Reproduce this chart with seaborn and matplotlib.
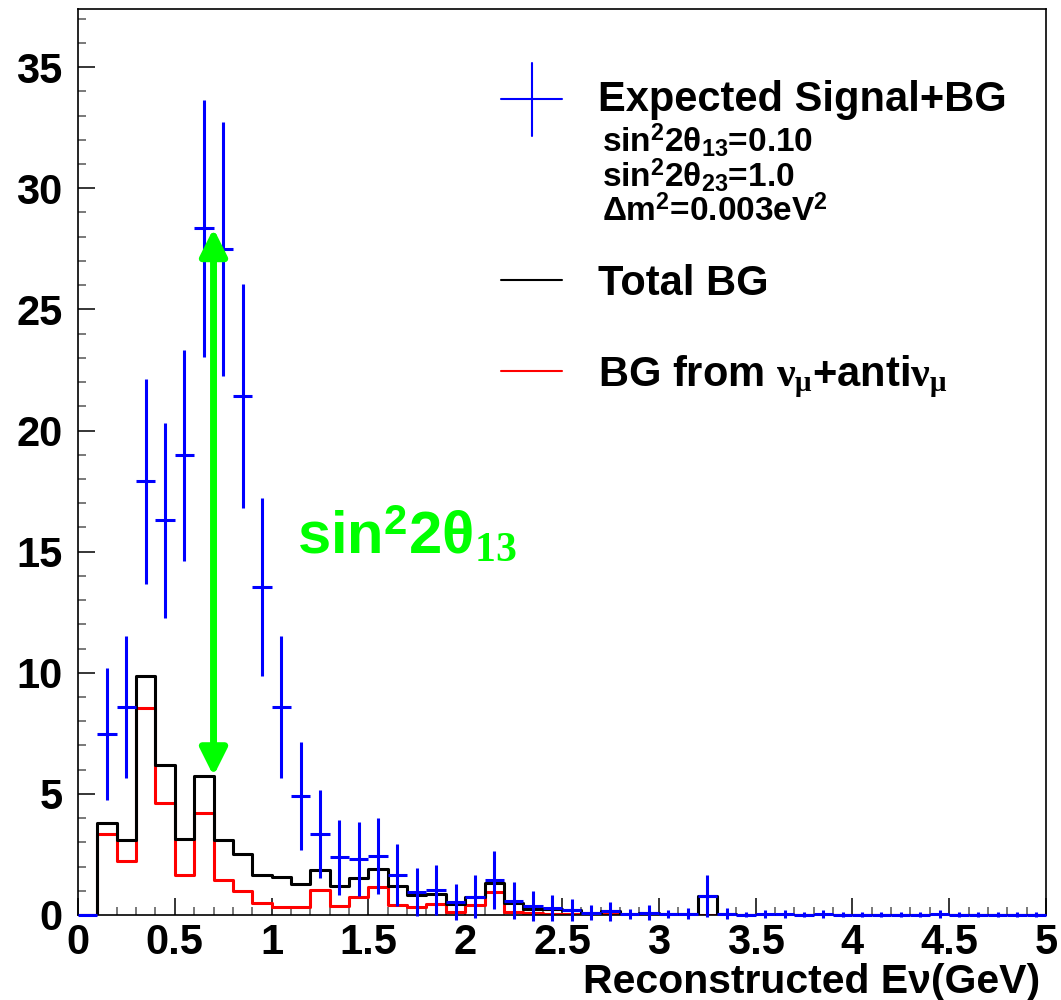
import numpy as np
import pandas as pd
import matplotlib
matplotlib.use("Agg")
import matplotlib.pyplot as plt
from matplotlib.lines import Line2D
from matplotlib.ticker import MultipleLocator
import seaborn as sns

# histogram binning: 50 bins of 0.1 GeV between 0 and 5 GeV
bin_edges = np.linspace(0.0, 5.0, 51)
bin_centers = 0.5 * (bin_edges[:-1] + bin_edges[1:])

# expected signal + BG (blue crosses)
signal_bg = [0.00, 7.47, 8.57, 17.90, 16.29, 18.97, 28.34, 27.51, 21.43, 13.54,
             8.57, 4.91, 3.34, 2.38, 2.33, 2.45, 1.64, 0.95, 1.03, 0.54,
             0.76, 1.44, 0.59, 0.37, 0.29, 0.20, 0.10, 0.15, 0.04, 0.10,
             0.03, 0.06, 0.78, 0.05, 0.01, 0.03, 0.03, 0.01, 0.03, 0.01,
             0.01, 0.01, 0.01, 0.01, 0.03, 0.01, 0.01, 0.01, 0.01, 0.01]

# total background (black)
total_bg = [0.00, 3.81, 3.08, 9.88, 6.19, 3.14, 5.74, 3.08, 2.53, 1.65,
            1.58, 1.28, 1.85, 1.20, 1.54, 1.88, 1.20, 0.81, 0.87, 0.45,
            0.73, 1.33, 0.48, 0.23, 0.25, 0.20, 0.10, 0.15, 0.04, 0.10,
            0.03, 0.05, 0.78, 0.03, 0.01, 0.02, 0.02, 0.01, 0.02, 0.01,
            0.01, 0.01, 0.01, 0.01, 0.02, 0.01, 0.01, 0.00, 0.01, 0.00]

# background from numu + anti-numu (red)
numu_bg = [0.00, 3.33, 2.24, 8.54, 4.61, 1.65, 4.21, 1.44, 1.00, 0.48,
           0.34, 0.34, 1.03, 0.37, 0.75, 1.17, 0.41, 0.34, 0.45, 0.12,
           0.41, 0.95, 0.12, 0.10, 0.05, 0.04, 0.03, 0.03, 0.01, 0.03,
           0.01, 0.01, 0.00, 0.01, 0.00, 0.00, 0.00, 0.00, 0.00, 0.00,
           0.00, 0.00, 0.00, 0.00, 0.00, 0.00, 0.00, 0.00, 0.00, 0.00]

xtick_values = [0, 0.5, 1, 1.5, 2, 2.5, 3, 3.5, 4, 4.5, 5]
xtick_labels = ["0", "0.5", "1", "1.5", "2", "2.5", "3", "3.5", "4", "4.5", "5"]
ytick_values = [0, 5, 10, 15, 20, 25, 30, 35]
ytick_labels = ["0", "5", "10", "15", "20", "25", "30", "35"]

# Poisson errors on the expected counts
signal_err = np.sqrt(np.array(signal_bg))

df = pd.DataFrame({"E": bin_centers, "total": total_bg, "numu": numu_bg,
                   "signal": signal_bg, "err": signal_err})

sns.set_style("white")
plt.rcParams["font.family"] = ["Liberation Sans", "DejaVu Sans"]
plt.rcParams["font.weight"] = "bold"
plt.rcParams["text.color"] = "black"
plt.rcParams["xtick.labelcolor"] = "black"
plt.rcParams["ytick.labelcolor"] = "black"
plt.rcParams["mathtext.fontset"] = "custom"
plt.rcParams["mathtext.rm"] = "Liberation Serif"
plt.rcParams["mathtext.bf"] = "Liberation Sans:bold"
plt.rcParams["mathtext.it"] = "Liberation Serif:italic"

W, H = 1061, 1000
fig = plt.figure(figsize=(W / 100, H / 100), dpi=100)
ax = fig.add_axes([78 / W, 85 / H, (1046 - 78) / W, (915 - 9) / H])

def fx(px):
    return px / W

def fy(py):
    return 1 - py / H

lw = 2.2
edges = list(bin_edges)
sns.histplot(data=df, x="E", weights="numu", bins=edges, element="step",
             fill=False, color="#ff0000", linewidth=lw, ax=ax, zorder=2)
sns.histplot(data=df, x="E", weights="total", bins=edges, element="step",
             fill=False, color="black", linewidth=lw, ax=ax, zorder=3)
eb = ax.errorbar(df["E"], df["signal"], xerr=0.05, yerr=df["err"], fmt="none",
                 ecolor="#0000ff", elinewidth=lw, capsize=0, zorder=4)
for coll in eb.lines[2]:
    coll.set_clip_on(False)

# arrow marking the signal excess at the peak
arrow_x = 0.70
green = "#00ff00"
ax.annotate("", xy=(arrow_x, signal_bg[6]), xytext=(arrow_x, total_bg[6]),
            arrowprops=dict(arrowstyle="<|-|>,head_length=0.9,head_width=0.45",
                            color=green, lw=5, mutation_scale=18,
                            shrinkA=0, shrinkB=0), zorder=5)

ax.set_xlim(0, 5)
ax.set_ylim(0, 37.4)
ax.set_xlabel("")
ax.set_ylabel("")
ax.set_xticks(xtick_values)
ax.set_xticklabels(xtick_labels)
ax.set_yticks(ytick_values)
ax.set_yticklabels(ytick_labels)
ax.xaxis.set_minor_locator(MultipleLocator(0.1))
ax.yaxis.set_minor_locator(MultipleLocator(1))
ax.tick_params(which="both", direction="in", top=False, right=False,
               bottom=True, left=True, width=1.1, color="black")
ax.tick_params(which="major", length=12, labelsize=30)
ax.tick_params(which="minor", length=6, color="#555555")
ax.tick_params(axis="x", which="major", pad=6)
ax.tick_params(axis="y", which="major", pad=11)
for s in ax.spines.values():
    s.set_color("black")
    s.set_linewidth(1.2)

fig.text(fx(1040), fy(993), "Reconstructed E\u03bd(GeV)", ha="right",
         va="baseline", fontsize=29.5, fontweight="bold")

# green label
fig.text(fx(297), fy(553), "sin$^{\\mathbf{2}}$2\u03b8$_{\\mathrm{13}}$",
         ha="left", va="baseline", fontsize=43, fontweight="bold", color=green)

# legend
fig.add_artist(Line2D([fx(532), fx(532)], [fy(63), fy(136)], color="#0000ff", lw=1.5))
fig.add_artist(Line2D([fx(501), fx(562)], [fy(99), fy(99)], color="#0000ff", lw=1.5))
fig.add_artist(Line2D([fx(501), fx(562)], [fy(280), fy(280)], color="black", lw=1.5))
fig.add_artist(Line2D([fx(501), fx(562)], [fy(371), fy(371)], color="#ff0000", lw=1.5))

fig.text(fx(598), fy(111), "Expected Signal+BG", ha="left", va="baseline",
         fontsize=30, fontweight="bold")
fig.text(fx(602), fy(151), "sin$^{\\mathbf{2}}$2\u03b8$_{\\mathbf{13}}$=0.10",
         ha="left", va="baseline", fontsize=24, fontweight="bold")
fig.text(fx(602), fy(186), "sin$^{\\mathbf{2}}$2\u03b8$_{\\mathbf{23}}$=1.0",
         ha="left", va="baseline", fontsize=24, fontweight="bold")
fig.text(fx(602), fy(221), "\u0394m$^{\\mathbf{2}}$=0.003eV$^{\\mathbf{2}}$",
         ha="left", va="baseline", fontsize=24, fontweight="bold")
fig.text(fx(598), fy(295), "Total BG", ha="left", va="baseline",
         fontsize=30, fontweight="bold")
fig.text(fx(598), fy(386), "BG from $\\mathrm{\\nu_{\\mu}}$+anti$\\mathrm{\\nu_{\\mu}}$",
         ha="left", va="baseline", fontsize=30, fontweight="bold")

fig.savefig("out.png", dpi=100)
